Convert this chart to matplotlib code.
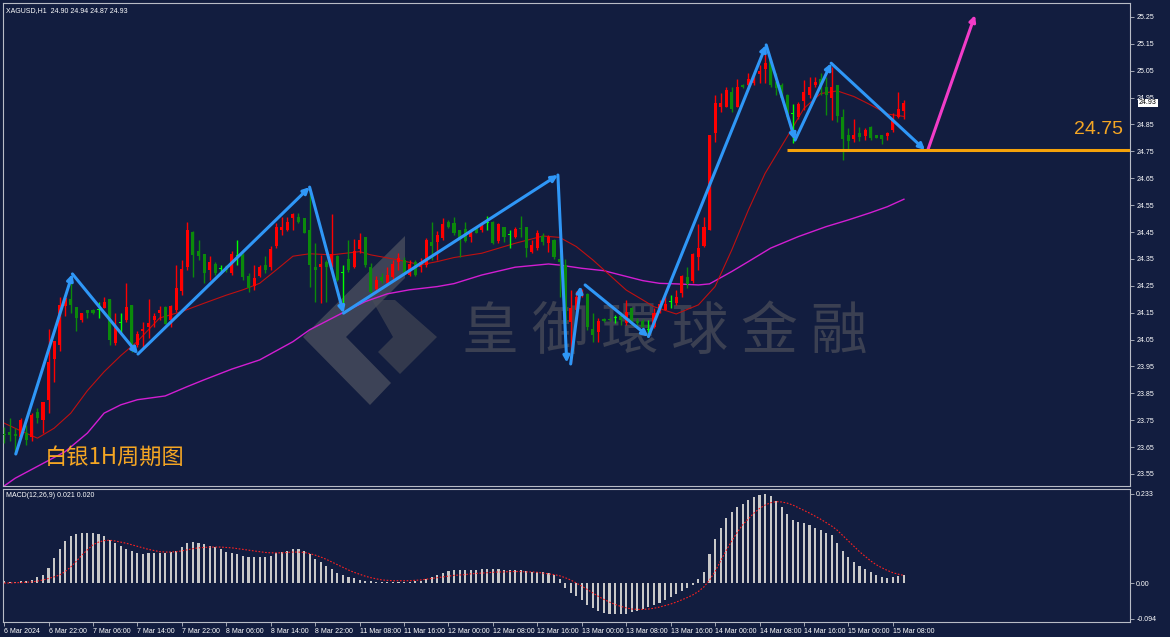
import numpy as np
import matplotlib
matplotlib.use('Agg')
import matplotlib.pyplot as plt
import matplotlib.transforms as mtransforms
from matplotlib.patches import Polygon

#%% Data (XAGUSD H1)
opens = [23.700, 23.705, 23.700, 23.689, 23.702, 23.689, 23.782, 23.749, 23.826, 23.978,
         24.030, 24.173, 24.201, 24.170, 24.121, 24.158, 24.160, 24.158, 24.169, 24.201,
         24.036, 24.111, 24.121, 24.179, 24.028, 24.080, 24.098, 24.121, 24.148, 24.170,
         24.123, 24.158, 24.229, 24.319, 24.449, 24.380, 24.369, 24.307, 24.330, 24.312,
         24.324, 24.297, 24.359, 24.365, 24.287, 24.249, 24.287, 24.328, 24.319, 24.398,
         24.458, 24.458, 24.501, 24.507, 24.501, 24.458, 24.321, 24.318, 24.338, 24.328,
         24.361, 24.299, 24.349, 24.318, 24.387, 24.431, 24.319, 24.237, 24.284, 24.259,
         24.282, 24.340, 24.344, 24.290, 24.340, 24.321, 24.328, 24.411, 24.411, 24.427,
         24.489, 24.483, 24.458, 24.460, 24.430, 24.464, 24.458, 24.482, 24.489, 24.418,
         24.470, 24.439, 24.430, 24.466, 24.468, 24.377, 24.389, 24.435, 24.410, 24.420,
         24.348, 24.327, 24.117, 24.160, 24.216, 24.220, 24.088, 24.079, 24.125, 24.127,
         24.129, 24.138, 24.110, 24.169, 24.120, 24.120, 24.086, 24.098, 24.160, 24.160,
         24.191, 24.185, 24.222, 24.282, 24.269, 24.358, 24.398, 24.458, 24.820, 24.916,
         24.916, 24.972, 24.916, 24.997, 24.997, 25.003, 25.038, 25.055, 25.090, 25.009,
         24.997, 24.960, 24.889, 24.877, 24.939, 24.960, 24.997, 25.018, 24.988, 24.947,
         24.997, 24.879, 24.811, 24.795, 24.817, 24.807, 24.839, 24.811, 24.811, 24.807,
         24.830, 24.879, 24.900]
highs = [23.726, 23.757, 23.720, 23.757, 23.733, 23.776, 23.795, 23.819, 24.088, 24.043,
         24.210, 24.210, 24.260, 24.170, 24.150, 24.158, 24.162, 24.188, 24.208, 24.201,
         24.148, 24.148, 24.260, 24.179, 24.080, 24.117, 24.200, 24.148, 24.173, 24.173,
         24.179, 24.328, 24.346, 24.489, 24.452, 24.421, 24.369, 24.359, 24.340, 24.328,
         24.328, 24.381, 24.421, 24.371, 24.297, 24.328, 24.328, 24.359, 24.398, 24.483,
         24.507, 24.507, 24.522, 24.520, 24.501, 24.607, 24.408, 24.365, 24.346, 24.517,
         24.365, 24.328, 24.421, 24.423, 24.448, 24.431, 24.334, 24.287, 24.297, 24.319,
         24.344, 24.371, 24.356, 24.344, 24.344, 24.352, 24.427, 24.489, 24.452, 24.501,
         24.495, 24.507, 24.458, 24.489, 24.455, 24.470, 24.489, 24.510, 24.491, 24.482,
         24.470, 24.458, 24.470, 24.510, 24.468, 24.420, 24.458, 24.445, 24.439, 24.423,
         24.383, 24.348, 24.234, 24.231, 24.237, 24.222, 24.148, 24.129, 24.129, 24.130,
         24.141, 24.154, 24.197, 24.172, 24.129, 24.125, 24.123, 24.166, 24.197, 24.216,
         24.216, 24.234, 24.290, 24.319, 24.371, 24.480, 24.507, 24.811, 24.960, 24.968,
         24.991, 24.988, 25.018, 25.001, 25.043, 25.043, 25.071, 25.140, 25.092, 25.040,
         25.003, 24.964, 24.926, 24.935, 25.016, 25.028, 25.028, 25.040, 25.028, 25.065,
         24.997, 24.906, 24.836, 24.869, 24.842, 24.836, 24.844, 24.811, 24.811, 24.823,
         24.892, 24.972, 24.940]
lows = [23.664, 23.671, 23.627, 23.683, 23.658, 23.671, 23.739, 23.702, 23.778, 23.891,
        24.009, 24.136, 24.148, 24.080, 24.117, 24.129, 24.145, 24.129, 24.167, 24.030,
        24.030, 24.074, 24.117, 24.005, 24.024, 24.018, 24.055, 24.098, 24.123, 24.108,
        24.098, 24.154, 24.216, 24.309, 24.282, 24.346, 24.260, 24.272, 24.291, 24.297,
        24.303, 24.290, 24.328, 24.272, 24.228, 24.235, 24.284, 24.297, 24.309, 24.390,
        24.439, 24.455, 24.458, 24.485, 24.445, 24.247, 24.191, 24.187, 24.191, 24.321,
        24.266, 24.173, 24.303, 24.315, 24.373, 24.321, 24.220, 24.232, 24.259, 24.253,
        24.272, 24.309, 24.294, 24.287, 24.287, 24.303, 24.321, 24.346, 24.346, 24.421,
        24.464, 24.439, 24.358, 24.414, 24.414, 24.445, 24.451, 24.458, 24.405, 24.410,
        24.414, 24.389, 24.427, 24.430, 24.358, 24.373, 24.383, 24.402, 24.377, 24.348,
        24.210, 24.073, 23.962, 24.148, 24.210, 24.086, 24.042, 24.042, 24.117, 24.119,
        24.110, 24.104, 24.104, 24.104, 24.104, 24.095, 24.061, 24.092, 24.148, 24.158,
        24.166, 24.179, 24.210, 24.241, 24.259, 24.309, 24.396, 24.458, 24.786, 24.898,
        24.914, 24.898, 24.914, 24.985, 24.993, 24.997, 25.003, 25.003, 24.991, 24.960,
        24.941, 24.869, 24.780, 24.869, 24.904, 24.947, 24.988, 24.960, 24.885, 24.867,
        24.860, 24.718, 24.755, 24.786, 24.790, 24.792, 24.792, 24.799, 24.777, 24.792,
        24.823, 24.873, 24.870]
closes = [23.695, 23.695, 23.690, 23.751, 23.677, 23.770, 23.757, 23.819, 23.968, 24.043,
          24.179, 24.204, 24.179, 24.129, 24.150, 24.148, 24.148, 24.158, 24.189, 24.049,
          24.098, 24.111, 24.170, 24.024, 24.070, 24.090, 24.111, 24.138, 24.160, 24.108,
          24.173, 24.241, 24.312, 24.458, 24.365, 24.359, 24.297, 24.340, 24.297, 24.312,
          24.309, 24.369, 24.359, 24.282, 24.241, 24.278, 24.319, 24.307, 24.388, 24.468,
          24.468, 24.489, 24.516, 24.489, 24.448, 24.328, 24.307, 24.330, 24.318, 24.369,
          24.272, 24.299, 24.307, 24.380, 24.421, 24.328, 24.228, 24.272, 24.269, 24.290,
          24.331, 24.352, 24.299, 24.331, 24.290, 24.339, 24.421, 24.398, 24.439, 24.480,
          24.470, 24.445, 24.420, 24.418, 24.445, 24.448, 24.473, 24.482, 24.410, 24.480,
          24.430, 24.439, 24.460, 24.460, 24.389, 24.401, 24.448, 24.414, 24.430, 24.358,
          24.340, 24.110, 24.166, 24.210, 24.228, 24.098, 24.067, 24.120, 24.120, 24.123,
          24.129, 24.123, 24.154, 24.110, 24.110, 24.098, 24.086, 24.148, 24.182, 24.182,
          24.191, 24.210, 24.287, 24.257, 24.368, 24.389, 24.470, 24.811, 24.929, 24.929,
          24.978, 24.906, 24.988, 24.988, 25.018, 25.030, 25.050, 25.080, 24.997, 24.985,
          24.947, 24.877, 24.889, 24.926, 24.972, 24.988, 25.009, 24.981, 24.960, 24.988,
          24.880, 24.795, 24.790, 24.811, 24.802, 24.830, 24.799, 24.799, 24.795, 24.820,
          24.873, 24.906, 24.930]

# moving averages (sampled)
ma_fast_bars = [0, 3, 6, 9, 12, 15, 18, 21, 24, 28, 32, 36, 40, 43, 46, 49, 52, 55, 59, 64,
                66, 71, 75, 78, 81, 86, 92, 97, 100, 103, 106, 109, 112, 115, 117, 121, 125,
                128, 131, 134, 137, 141, 144, 147, 150, 153, 156, 159, 162]
ma_fast_vals = [23.739, 23.710, 23.683, 23.720, 23.776, 23.860, 23.930, 23.990, 24.043, 24.130,
                24.154, 24.185, 24.215, 24.235, 24.259, 24.309, 24.360, 24.369, 24.365, 24.377,
                24.365, 24.346, 24.328, 24.340, 24.355, 24.371, 24.408, 24.435, 24.430, 24.396,
                24.346, 24.290, 24.234, 24.197, 24.172, 24.145, 24.179, 24.247, 24.383, 24.532,
                24.668, 24.805, 24.910, 24.965, 24.975, 24.954, 24.923, 24.889, 24.880]
ma_slow_bars = [0, 2, 6, 11, 15, 18, 21, 24, 29, 33, 36, 41, 46, 52, 55, 61, 65, 69, 73, 78,
                81, 86, 92, 98, 100, 104, 108, 111, 115, 118, 121, 125, 127, 131, 134, 138,
                143, 148, 152, 156, 159, 162]
ma_slow_vals = [23.505, 23.534, 23.578, 23.633, 23.702, 23.776, 23.807, 23.826, 23.840, 23.875,
                23.900, 23.940, 23.974, 24.042, 24.086, 24.150, 24.191, 24.220, 24.235, 24.247,
                24.258, 24.290, 24.319, 24.331, 24.327, 24.315, 24.306, 24.290, 24.269, 24.259,
                24.257, 24.253, 24.257, 24.303, 24.340, 24.390, 24.433, 24.470, 24.495, 24.522,
                24.544, 24.572]

# MACD histogram and signal
macd_hist = [0.004, 0.003, 0.002, 0.004, 0.005, 0.008, 0.015, 0.022, 0.040, 0.065,
             0.090, 0.110, 0.122, 0.128, 0.131, 0.132, 0.130, 0.127, 0.122, 0.113,
             0.105, 0.098, 0.090, 0.084, 0.079, 0.077, 0.078, 0.079, 0.079, 0.078,
             0.080, 0.085, 0.093, 0.104, 0.107, 0.106, 0.102, 0.098, 0.094, 0.088,
             0.082, 0.078, 0.075, 0.071, 0.068, 0.067, 0.067, 0.068, 0.072, 0.078,
             0.082, 0.085, 0.088, 0.089, 0.085, 0.075, 0.064, 0.055, 0.045, 0.036,
             0.027, 0.020, 0.015, 0.012, 0.009, 0.006, 0.004, 0.003, 0.002, 0.002,
             0.002, 0.003, 0.003, 0.003, 0.004, 0.006, 0.010, 0.016, 0.022, 0.027,
             0.031, 0.033, 0.034, 0.034, 0.035, 0.035, 0.036, 0.037, 0.036, 0.036,
             0.035, 0.034, 0.034, 0.033, 0.031, 0.029, 0.029, 0.028, 0.025, 0.020,
             0.010, -0.012, -0.025, -0.035, -0.045, -0.057, -0.066, -0.073, -0.078, -0.081,
             -0.082, -0.082, -0.080, -0.077, -0.073, -0.068, -0.062, -0.057, -0.052, -0.045,
             -0.037, -0.030, -0.022, -0.013, -0.004, 0.010, 0.030, 0.075, 0.115, 0.145,
             0.170, 0.185, 0.198, 0.208, 0.218, 0.225, 0.230, 0.233, 0.228, 0.215,
             0.198, 0.180, 0.165, 0.160, 0.158, 0.152, 0.145, 0.138, 0.132, 0.125,
             0.105, 0.085, 0.068, 0.055, 0.045, 0.037, 0.030, 0.022, 0.016, 0.014,
             0.015, 0.018, 0.021]
macd_signal = [0.000, 0.000, 0.001, 0.001, 0.002, 0.003, 0.005, 0.008, 0.012, 0.016,
               0.021, 0.030, 0.042, 0.057, 0.073, 0.087, 0.100, 0.107, 0.111, 0.112,
               0.110, 0.107, 0.104, 0.100, 0.096, 0.092, 0.088, 0.085, 0.082, 0.081,
               0.081, 0.082, 0.084, 0.087, 0.090, 0.092, 0.093, 0.094, 0.094, 0.094,
               0.093, 0.092, 0.090, 0.088, 0.086, 0.084, 0.082, 0.080, 0.079, 0.079,
               0.079, 0.080, 0.081, 0.081, 0.080, 0.077, 0.073, 0.068, 0.062, 0.055,
               0.048, 0.041, 0.034, 0.028, 0.023, 0.018, 0.014, 0.011, 0.008, 0.007,
               0.006, 0.006, 0.006, 0.006, 0.007, 0.008, 0.010, 0.012, 0.014, 0.016,
               0.018, 0.020, 0.021, 0.022, 0.024, 0.025, 0.026, 0.027, 0.028, 0.029,
               0.029, 0.030, 0.030, 0.030, 0.029, 0.029, 0.028, 0.026, 0.024, 0.022,
               0.019, 0.014, 0.008, 0.000, -0.008, -0.017, -0.026, -0.035, -0.043, -0.050,
               -0.056, -0.061, -0.065, -0.068, -0.069, -0.069, -0.068, -0.066, -0.063, -0.059,
               -0.055, -0.050, -0.044, -0.038, -0.031, -0.022, -0.010, 0.008, 0.030, 0.058,
               0.085, 0.110, 0.133, 0.153, 0.168, 0.183, 0.195, 0.204, 0.210, 0.213,
               0.212, 0.209, 0.204, 0.197, 0.190, 0.183, 0.175, 0.167, 0.158, 0.149,
               0.138, 0.124, 0.110, 0.096, 0.082, 0.070, 0.058, 0.048, 0.040, 0.033,
               0.027, 0.023, 0.020]

# time axis labels, one every 8 bars
time_labels = ['6 Mar 2024', '6 Mar 22:00', '7 Mar 06:00', '7 Mar 14:00', '7 Mar 22:00',
               '8 Mar 06:00', '8 Mar 14:00', '8 Mar 22:00', '11 Mar 08:00', '11 Mar 16:00',
               '12 Mar 00:00', '12 Mar 08:00', '12 Mar 16:00', '13 Mar 00:00', '13 Mar 08:00',
               '13 Mar 16:00', '14 Mar 00:00', '14 Mar 08:00', '14 Mar 16:00', '15 Mar 00:00',
               '15 Mar 08:00']

# hand-drawn wave lines (bar, price) start -> end
wave_lines = [((2.1, 23.624), (12.3, 24.294)), ((12.3, 24.294), (24.1, 23.996)),
              ((24.1, 23.996), (55.0, 24.617)), ((55.0, 24.617), (61.1, 24.148)),
              ((61.1, 24.148), (99.7, 24.662)), ((99.7, 24.662), (101.3, 23.964)),
              ((102.0, 23.959), (103.8, 24.249)), ((104.6, 24.253), (116.0, 24.061)),
              ((116.0, 24.061), (137.2, 25.146)), ((137.2, 25.146), (142.4, 24.792)),
              ((142.4, 24.792), (148.9, 25.078)), ((148.9, 25.078), (165.8, 24.755))]
forecast_line = ((166.3, 24.755), (174.8, 25.257))
support_level = 24.755
support_start = 140.9

#%% Figure
BG = '#121d3f'
FG = '#ffffff'
SPINE = '#b8bcc6'
SMALL = ['Liberation Sans', 'DejaVu Sans']
CJK = ['Noto Sans CJK SC', 'DejaVu Sans']

fig = plt.figure(figsize=(11.7, 6.37), dpi=100, facecolor=BG)
W, H = 1170, 637
def frame(left, top, right, bottom):
    return [left / W, 1 - bottom / H, (right - left) / W, (bottom - top) / H]

ax = fig.add_axes(frame(3, 3, 1130, 486), facecolor=BG)
ax2 = fig.add_axes(frame(3, 489, 1130, 622), facecolor=BG)

xlim = (-0.2, 202.7)
n = len(closes)
x = np.arange(n)
o = np.array(opens); c = np.array(closes); hi = np.array(highs); lo = np.array(lows)
cols = np.where(c > o, '#ff0000', np.where(c < o, '#0b8a0b', '#00ff00'))

# watermark (behind everything)
def px_to_axes(px, py):
    return ((px - 3) / 1127, 1 - (py - 3) / 483)

logo_left = [(405, 236), (405, 278), (346, 337), (391, 383), (370, 405), (303, 337)]
logo_right = [(372, 300), (395, 300), (437, 337), (400, 374), (378, 352), (393, 337)]
for pts, shade, alpha in [(logo_left, '#62646c', 0.55), (logo_right, '#4a4d58', 0.6)]:
    ax.add_patch(Polygon([px_to_axes(*p) for p in pts], closed=True, transform=ax.transAxes,
                         facecolor=shade, edgecolor='none', alpha=alpha, zorder=0.5))
wx, wy = px_to_axes(665, 333)
ax.text(wx, wy, '皇 御 環 球 金 融', transform=ax.transAxes, ha='center', va='center',
        fontsize=41, color='#3b4052', family=['Noto Sans CJK TC', 'DejaVu Sans'],
        zorder=0.5)

# moving averages
ax.plot(ma_slow_bars, ma_slow_vals, color='#d21ed2', lw=1.0, zorder=2)
ax.plot(ma_fast_bars, ma_fast_vals, color='#c01010', lw=0.8, zorder=2)

# candles
ax.vlines(x, lo, hi, colors=cols, lw=1.0, zorder=3)
ax.bar(x, np.maximum(np.abs(c - o), 0.004), bottom=np.minimum(o, c), width=0.55,
       color=cols, linewidth=0, zorder=3)

# wave lines and forecast
for start, end in wave_lines:
    ax.annotate('', xy=end, xytext=start, zorder=4,
                arrowprops=dict(arrowstyle='-|>', color='#2f97f7', lw=2.2,
                                mutation_scale=9, shrinkA=0, shrinkB=0))
ax.annotate('', xy=forecast_line[1], xytext=forecast_line[0], zorder=4,
            arrowprops=dict(arrowstyle='-|>', color='#f23cc8', lw=2.2,
                            mutation_scale=9, shrinkA=0, shrinkB=0))

ax.hlines(support_level, support_start, xlim[1], color='#f5a20a', lw=2.2, zorder=4)
ax.text(197.1, 24.83, '24.75', ha='center', va='center', fontsize=14, color='#f5a623',
        family=SMALL, zorder=5)
ax.text(7.4, 23.612, '白银1H周期图', ha='left', va='center', fontsize=16, color='#f5a623',
        family=CJK, zorder=5)

ax.text(0.003, 0.992, 'XAGUSD,H1  24.90 24.94 24.87 24.93', transform=ax.transAxes,
        ha='left', va='top', fontsize=5, color=FG, family=SMALL)

ax.set_xlim(*xlim)
ax.set_ylim(23.505, 25.302)
price_ticks = np.round(np.arange(23.55, 25.26, 0.1), 2)
ax.yaxis.tick_right()
ax.set_yticks(price_ticks)
ax.set_yticklabels(['%.2f' % t for t in price_ticks])
ax.set_xticks([])

# current price box
trans = mtransforms.blended_transform_factory(ax.transAxes, ax.transData)
ax.text(1.008, closes[-1], '%.2f' % closes[-1], transform=trans, ha='left', va='center',
        fontsize=5, color='black', family=SMALL, zorder=6,
        bbox=dict(facecolor='white', edgecolor='none', pad=0.6))

#%% MACD panel
ax2.bar(x, macd_hist, width=0.38, color='#c8c8c8', linewidth=0, zorder=2)
ax2.plot(x, macd_signal, color='#ff2020', lw=0.8, ls=(0, (1.5, 1.5)), zorder=3)
ax2.set_xlim(*xlim)
ax2.set_ylim(-0.102, 0.246)
ax2.yaxis.tick_right()
ax2.set_yticks([0.233, 0.0, -0.094])
ax2.set_yticklabels(['0.233', '0.00', '-0.094'])
ax2.text(0.003, 0.975, 'MACD(12,26,9) 0.021 0.020', transform=ax2.transAxes,
         ha='left', va='top', fontsize=5, color=FG, family=SMALL)

ax2.set_xticks(np.arange(len(time_labels)) * 8)
ax2.set_xticklabels(time_labels)
for lbl in ax2.get_xticklabels():
    lbl.set_horizontalalignment('left')

for a in (ax, ax2):
    for s in a.spines.values():
        s.set_color(SPINE)
        s.set_linewidth(0.8)
    a.tick_params(colors=SPINE, labelcolor=FG, labelsize=5, length=3, width=0.6, pad=1.5)
    for lbl in a.get_yticklabels() + a.get_xticklabels():
        lbl.set_family(SMALL)

fig.savefig('out.png', dpi=100, facecolor=BG)
